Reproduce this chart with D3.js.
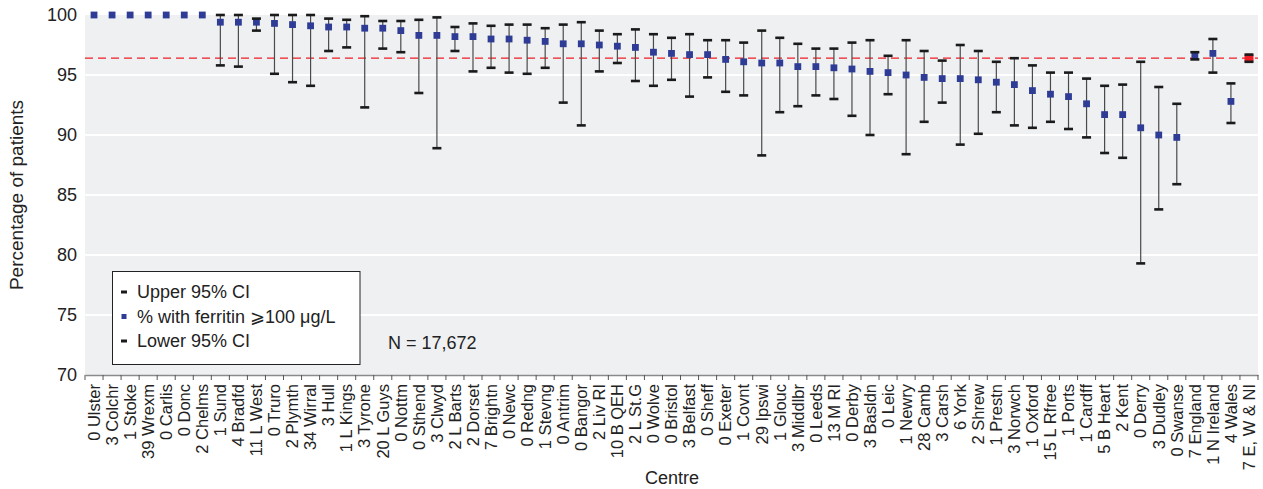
<!DOCTYPE html>
<html>
<head>
<meta charset="utf-8">
<script src="https://cdn.jsdelivr.net/npm/d3@7"></script>
<style>
  html, body { margin: 0; padding: 0; background: #fff; }
  svg { display: block; font-family: "Liberation Sans", Arial, sans-serif; }
</style>
</head>
<body>
<svg id="chart" width="1263" height="489"></svg>
<script>
const centres = ["0 Ulster","3 Colchr","1 Stoke","39 Wrexm","0 Carlis","0 Donc","2 Chelms","1 Sund","4 Bradfd","11 L West",
  "0 Truro","2 Plymth","34 Wirral","3 Hull","1 L Kings","3 Tyrone","20 L Guys","0 Nottm","0 Sthend","3 Clwyd",
  "2 L Barts","2 Dorset","7 Brightn","0 Newc","0 Redng","1 Stevng","0 Antrim","0 Bangor","2 Liv RI","10 B QEH",
  "2 L St.G","0 Wolve","0 Bristol","3 Belfast","0 Sheff","0 Exeter","1 Covnt","29 Ipswi","1 Glouc","3 Middlbr",
  "0 Leeds","13 M RI","0 Derby","3 Basldn","0 Leic","1 Newry","28 Camb","3 Carsh","6 York","2 Shrew",
  "1 Prestn","3 Norwch","1 Oxford","15 L Rfree","1 Ports","1 Cardff","5 B Heart","2 Kent","0 Derry","3 Dudley",
  "0 Swanse","7 England","1 N Ireland","4 Wales","7 E, W & NI"];
const pct = [100,100,100,100,100,100,100,99.4,99.4,99.4,
  99.3,99.2,99.1,99.0,99.0,98.9,98.9,98.7,98.3,98.3,
  98.2,98.2,98.0,98.0,97.9,97.8,97.6,97.6,97.5,97.4,
  97.3,96.9,96.8,96.7,96.7,96.3,96.1,96.0,96.0,95.7,
  95.7,95.6,95.5,95.3,95.2,95.0,94.8,94.7,94.7,94.6,
  94.4,94.2,93.7,93.4,93.2,92.6,91.7,91.7,90.6,90.0,
  89.8,96.6,96.8,92.8,96.4];
const upper = [null,null,null,null,null,null,null,100,100,99.7,
  100,100,100,99.7,99.6,99.9,99.5,99.5,99.6,99.8,
  99.0,99.3,99.1,99.2,99.2,98.9,99.2,99.4,98.7,98.4,
  98.8,98.4,98.1,98.4,97.9,97.9,97.7,98.7,98.1,97.6,
  97.2,97.2,97.7,97.9,96.6,97.9,97.0,96.2,97.5,97.0,
  96.1,96.4,95.8,95.2,95.2,94.7,94.1,94.2,96.1,94.0,
  92.6,96.9,98.0,94.3,96.7];
const lower = [null,null,null,null,null,null,null,95.8,95.7,98.7,
  95.1,94.4,94.1,97.0,97.3,92.3,97.2,96.9,93.5,88.9,
  97.0,95.3,95.6,95.2,95.1,95.6,92.7,90.8,95.3,96.0,
  94.5,94.1,94.6,93.2,94.8,93.6,93.3,88.3,91.9,92.4,
  93.3,93.0,91.6,90.0,93.4,88.4,91.1,92.7,89.2,90.1,
  91.9,90.8,90.6,91.1,90.5,89.8,88.5,88.1,79.3,83.8,
  85.9,96.3,95.2,91.0,96.1];
const yTicks = [70,75,80,85,90,95,100];
const referenceValue = 96.4;
const legendLabels = ["Upper 95% CI", "% with ferritin \u2A7E100 \u03BCg/L", "Lower 95% CI"];
const nLabel = "N = 17,672";

const svg = d3.select("#chart");
const m = {left: 85, right: 1258, top: 15, bottom: 375};

const x = d3.scaleBand().domain(centres).range([m.left, m.right]).padding(0);
const y = d3.scaleLinear().domain([70, 100]).range([m.bottom, m.top]);

// plot background
svg.append("rect").attr("x", m.left).attr("y", m.top)
  .attr("width", m.right - m.left).attr("height", m.bottom - m.top)
  .attr("fill", "#eff0f2");

// grid lines
svg.append("g").selectAll("line").data(yTicks.filter(t => t > 70 && t < 100)).join("line")
  .attr("x1", m.left).attr("x2", m.right)
  .attr("y1", d => y(d)).attr("y2", d => y(d))
  .attr("stroke", "#fff").attr("stroke-width", 2);

// y axis labels
const yAxis = d3.axisLeft(y).tickValues(yTicks).tickSize(0).tickPadding(8);
const gy = svg.append("g").attr("transform", `translate(${m.left},0)`).call(yAxis);
gy.select(".domain").remove();
gy.selectAll("text").attr("font-size", 18).attr("fill", "#222").attr("font-family", "Liberation Sans, Arial, sans-serif");

// x axis
const xAxis = d3.axisBottom(x).tickSize(0).tickPadding(0);
const gx = svg.append("g").attr("transform", `translate(0,${m.bottom})`).call(xAxis);
gx.select(".domain").attr("stroke", "#8a8a8a").attr("stroke-width", 1.5);
gx.selectAll("text")
  .attr("font-size", 16.5).attr("fill", "#222").attr("font-family", "Liberation Sans, Arial, sans-serif")
  .attr("text-anchor", "end")
  .attr("transform", "translate(0,9) rotate(-90)")
  .attr("dy", "0.35em").attr("x", 0).attr("y", 0);
// band boundary ticks
const bounds = centres.map(c => x(c)).concat([x(centres[centres.length - 1]) + x.bandwidth()]);
svg.append("g").selectAll("line").data(bounds).join("line")
  .attr("x1", d => d).attr("x2", d => d)
  .attr("y1", m.bottom).attr("y2", m.bottom + 5)
  .attr("stroke", "#555").attr("stroke-width", 1);

// reference line
svg.append("line")
  .attr("x1", m.left).attr("x2", m.right)
  .attr("y1", y(referenceValue)).attr("y2", y(referenceValue))
  .attr("stroke", "#ee1c24").attr("stroke-width", 1.3)
  .attr("stroke-dasharray", "8,5");

const data = centres.map((c, i) => ({c, p: pct[i], u: upper[i], l: lower[i], i}));
const cx = d => x(d.c) + x.bandwidth() / 2;
const withCI = data.filter(d => d.u !== null);

// error lines
svg.append("g").selectAll("line").data(withCI).join("line")
  .attr("x1", cx).attr("x2", cx)
  .attr("y1", d => y(d.u)).attr("y2", d => y(d.l))
  .attr("stroke", "#4a4a4a").attr("stroke-width", 1.2);

// markers
const last = centres.length - 1;
svg.append("g").selectAll("rect").data(data).join("rect")
  .attr("x", d => cx(d) - (d.i === last ? 4.5 : 3.4))
  .attr("y", d => y(d.p) - (d.i === last ? 4.5 : 3.4))
  .attr("width", d => d.i === last ? 9 : 6.8)
  .attr("height", d => d.i === last ? 9 : 6.8)
  .attr("rx", d => d.i === last ? 2 : 0)
  .attr("fill", d => d.i === last ? "#ee1c24" : "#2e3c96");

// caps
const capW = 9;
["u", "l"].forEach(k => {
  svg.append("g").selectAll("rect").data(withCI).join("rect")
    .attr("x", d => cx(d) - capW / 2)
    .attr("y", d => y(d[k]) - 1.3)
    .attr("width", capW).attr("height", 2.6)
    .attr("fill", "#1a1a1a");
});

// axis titles
svg.append("text")
  .attr("transform", `translate(23,${(m.top + m.bottom) / 2}) rotate(-90)`)
  .attr("text-anchor", "middle")
  .attr("font-size", 19).attr("fill", "#222")
  .text("Percentage of patients");
svg.append("text")
  .attr("x", 672).attr("y", 484)
  .attr("text-anchor", "middle")
  .attr("font-size", 18).attr("fill", "#222")
  .text("Centre");

// legend
const lg = svg.append("g");
lg.append("rect").attr("x", 112.5).attr("y", 271.5).attr("width", 247.5).attr("height", 93)
  .attr("fill", "#fff").attr("stroke", "#222").attr("stroke-width", 1);
const rowsY = [292, 316.5, 341];
legendLabels.forEach((t, i) => {
  if (i === 1) {
    lg.append("rect").attr("x", 121.5).attr("y", rowsY[i] - 2.5).attr("width", 5).attr("height", 5).attr("fill", "#2e3c96");
  } else {
    lg.append("rect").attr("x", 121).attr("y", rowsY[i] - 1.5).attr("width", 6).attr("height", 3).attr("fill", "#1a1a1a");
  }
  lg.append("text").attr("x", 137).attr("y", rowsY[i]).attr("dy", "0.35em")
    .attr("font-size", 18).attr("fill", "#222").text(t);
});
svg.append("text").attr("x", 388).attr("y", 343).attr("dy", "0.35em")
  .attr("font-size", 18).attr("fill", "#222").text(nLabel);
</script>
</body>
</html>
